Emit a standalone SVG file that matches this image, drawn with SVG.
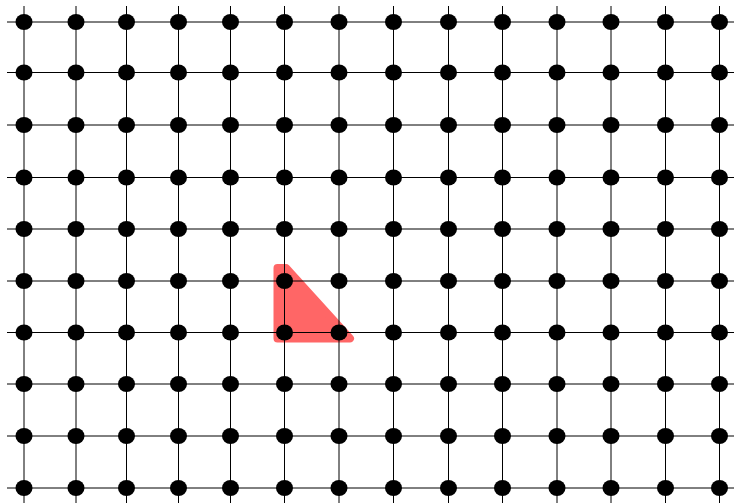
<svg xmlns="http://www.w3.org/2000/svg" xmlns:xlink="http://www.w3.org/1999/xlink" width="734" height="503" viewBox="0 0 734 503">
<style>
.ln{stroke:#000;stroke-width:1;fill:none}
.tri{fill:#ff6666;stroke:#ff6666;stroke-width:8;stroke-linejoin:round}
.dot{fill:#000}
</style>
<defs><ellipse id="d" class="dot" cx="0" cy="0" rx="8.5" ry="8"/></defs>
<rect width="734" height="503" fill="#fff"/>
<g id="shape"><polygon class="tri" points="277.5,268 286,268 350,338.5 277.5,338.5"/></g>
<g id="connectors" class="ln">
<path d="M7 22H734M7 72.5H734M7 125H734M7 177.5H734M7 229H734M7 281H734M7 332.5H734M7 384H734M7 436H734M7 488H734"/>
<path d="M24 6V503M76 6V503M126.5 6V503M178.5 6V503M230.5 6V503M284.5 6V503M339 6V503M393.5 6V503M448.5 6V503M502.5 6V503M557 6V503M611 6V503M665.5 6V503M719.5 6V503"/>
</g>
<g id="nodes">
<g id="row1"><use href="#d" x="24" y="22"/><use href="#d" x="76" y="22"/><use href="#d" x="126.5" y="22"/><use href="#d" x="178.5" y="22"/><use href="#d" x="230.5" y="22"/><use href="#d" x="284.5" y="22"/><use href="#d" x="339" y="22"/><use href="#d" x="393.5" y="22"/><use href="#d" x="448.5" y="22"/><use href="#d" x="502.5" y="22"/><use href="#d" x="557" y="22"/><use href="#d" x="611" y="22"/><use href="#d" x="665.5" y="22"/><use href="#d" x="719.5" y="22"/></g>
<g id="row2"><use href="#d" x="24" y="72.5"/><use href="#d" x="76" y="72.5"/><use href="#d" x="126.5" y="72.5"/><use href="#d" x="178.5" y="72.5"/><use href="#d" x="230.5" y="72.5"/><use href="#d" x="284.5" y="72.5"/><use href="#d" x="339" y="72.5"/><use href="#d" x="393.5" y="72.5"/><use href="#d" x="448.5" y="72.5"/><use href="#d" x="502.5" y="72.5"/><use href="#d" x="557" y="72.5"/><use href="#d" x="611" y="72.5"/><use href="#d" x="665.5" y="72.5"/><use href="#d" x="719.5" y="72.5"/></g>
<g id="row3"><use href="#d" x="24" y="125"/><use href="#d" x="76" y="125"/><use href="#d" x="126.5" y="125"/><use href="#d" x="178.5" y="125"/><use href="#d" x="230.5" y="125"/><use href="#d" x="284.5" y="125"/><use href="#d" x="339" y="125"/><use href="#d" x="393.5" y="125"/><use href="#d" x="448.5" y="125"/><use href="#d" x="502.5" y="125"/><use href="#d" x="557" y="125"/><use href="#d" x="611" y="125"/><use href="#d" x="665.5" y="125"/><use href="#d" x="719.5" y="125"/></g>
<g id="row4"><use href="#d" x="24" y="177.5"/><use href="#d" x="76" y="177.5"/><use href="#d" x="126.5" y="177.5"/><use href="#d" x="178.5" y="177.5"/><use href="#d" x="230.5" y="177.5"/><use href="#d" x="284.5" y="177.5"/><use href="#d" x="339" y="177.5"/><use href="#d" x="393.5" y="177.5"/><use href="#d" x="448.5" y="177.5"/><use href="#d" x="502.5" y="177.5"/><use href="#d" x="557" y="177.5"/><use href="#d" x="611" y="177.5"/><use href="#d" x="665.5" y="177.5"/><use href="#d" x="719.5" y="177.5"/></g>
<g id="row5"><use href="#d" x="24" y="229"/><use href="#d" x="76" y="229"/><use href="#d" x="126.5" y="229"/><use href="#d" x="178.5" y="229"/><use href="#d" x="230.5" y="229"/><use href="#d" x="284.5" y="229"/><use href="#d" x="339" y="229"/><use href="#d" x="393.5" y="229"/><use href="#d" x="448.5" y="229"/><use href="#d" x="502.5" y="229"/><use href="#d" x="557" y="229"/><use href="#d" x="611" y="229"/><use href="#d" x="665.5" y="229"/><use href="#d" x="719.5" y="229"/></g>
<g id="row6"><use href="#d" x="24" y="281"/><use href="#d" x="76" y="281"/><use href="#d" x="126.5" y="281"/><use href="#d" x="178.5" y="281"/><use href="#d" x="230.5" y="281"/><use href="#d" x="284.5" y="281"/><use href="#d" x="339" y="281"/><use href="#d" x="393.5" y="281"/><use href="#d" x="448.5" y="281"/><use href="#d" x="502.5" y="281"/><use href="#d" x="557" y="281"/><use href="#d" x="611" y="281"/><use href="#d" x="665.5" y="281"/><use href="#d" x="719.5" y="281"/></g>
<g id="row7"><use href="#d" x="24" y="332.5"/><use href="#d" x="76" y="332.5"/><use href="#d" x="126.5" y="332.5"/><use href="#d" x="178.5" y="332.5"/><use href="#d" x="230.5" y="332.5"/><use href="#d" x="284.5" y="332.5"/><use href="#d" x="339" y="332.5"/><use href="#d" x="393.5" y="332.5"/><use href="#d" x="448.5" y="332.5"/><use href="#d" x="502.5" y="332.5"/><use href="#d" x="557" y="332.5"/><use href="#d" x="611" y="332.5"/><use href="#d" x="665.5" y="332.5"/><use href="#d" x="719.5" y="332.5"/></g>
<g id="row8"><use href="#d" x="24" y="384"/><use href="#d" x="76" y="384"/><use href="#d" x="126.5" y="384"/><use href="#d" x="178.5" y="384"/><use href="#d" x="230.5" y="384"/><use href="#d" x="284.5" y="384"/><use href="#d" x="339" y="384"/><use href="#d" x="393.5" y="384"/><use href="#d" x="448.5" y="384"/><use href="#d" x="502.5" y="384"/><use href="#d" x="557" y="384"/><use href="#d" x="611" y="384"/><use href="#d" x="665.5" y="384"/><use href="#d" x="719.5" y="384"/></g>
<g id="row9"><use href="#d" x="24" y="436"/><use href="#d" x="76" y="436"/><use href="#d" x="126.5" y="436"/><use href="#d" x="178.5" y="436"/><use href="#d" x="230.5" y="436"/><use href="#d" x="284.5" y="436"/><use href="#d" x="339" y="436"/><use href="#d" x="393.5" y="436"/><use href="#d" x="448.5" y="436"/><use href="#d" x="502.5" y="436"/><use href="#d" x="557" y="436"/><use href="#d" x="611" y="436"/><use href="#d" x="665.5" y="436"/><use href="#d" x="719.5" y="436"/></g>
<g id="row10"><use href="#d" x="24" y="488"/><use href="#d" x="76" y="488"/><use href="#d" x="126.5" y="488"/><use href="#d" x="178.5" y="488"/><use href="#d" x="230.5" y="488"/><use href="#d" x="284.5" y="488"/><use href="#d" x="339" y="488"/><use href="#d" x="393.5" y="488"/><use href="#d" x="448.5" y="488"/><use href="#d" x="502.5" y="488"/><use href="#d" x="557" y="488"/><use href="#d" x="611" y="488"/><use href="#d" x="665.5" y="488"/><use href="#d" x="719.5" y="488"/></g>
</g>
</svg>
